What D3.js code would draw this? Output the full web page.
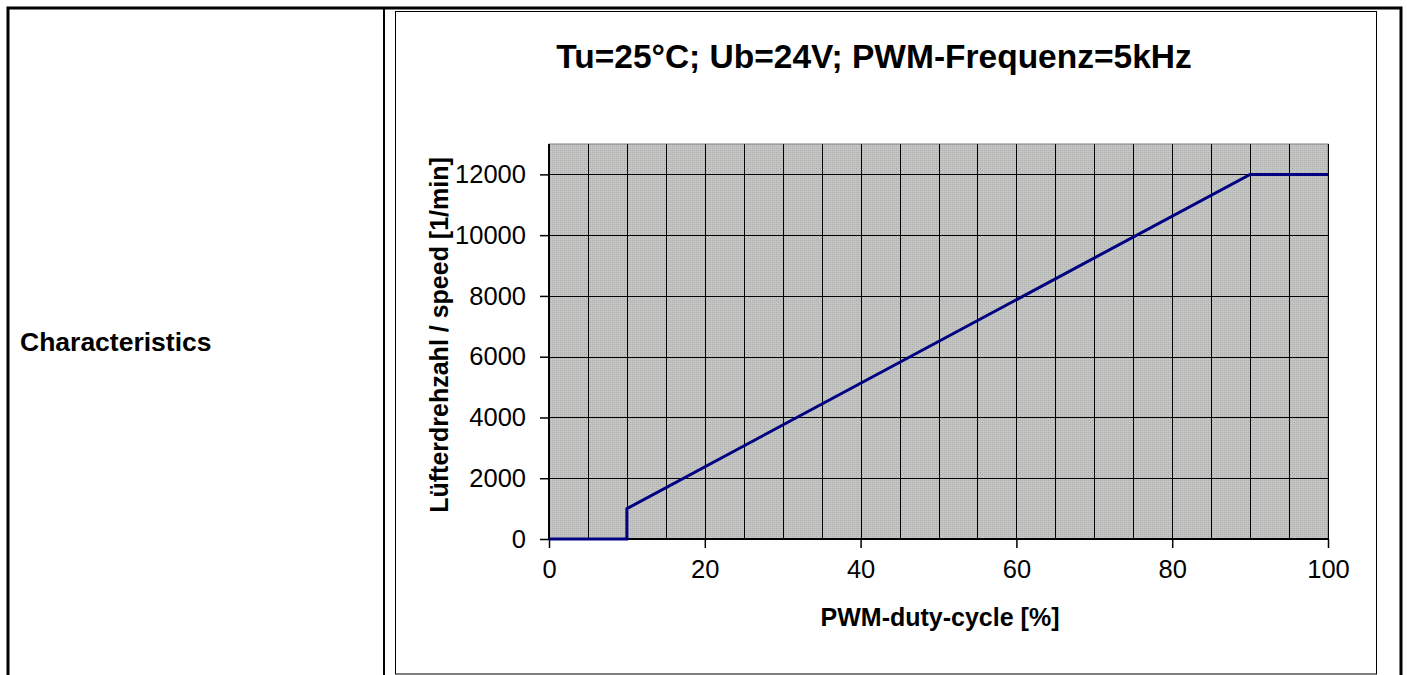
<!DOCTYPE html>
<html>
<head>
<meta charset="utf-8">
<script src="https://cdn.jsdelivr.net/npm/d3@7"></script>
<style>
  html, body { margin: 0; padding: 0; background: #fff; }
  svg { display: block; font-family: "Liberation Sans", Arial, sans-serif; }
</style>
</head>
<body>
<svg id="chart" width="1407" height="675"></svg>
<script>
// data
const dutyCycle = [0, 10, 10, 90, 100]
const speed = [0, 0, 1000, 12000, 12000]
const xTicks = [0, 20, 40, 60, 80, 100]
const xGrid = d3.range(0, 101, 5)
const yTicks = [0, 2000, 4000, 6000, 8000, 10000, 12000]
const title = "Tu=25°C; Ub=24V; PWM-Frequenz=5kHz"
const xTitle = "PWM-duty-cycle [%]"
const yTitle = "Lüfterdrehzahl / speed [1/min]"
const rowLabel = "Characteristics"

const svg = d3.select("#chart")

// table frame around the chart
svg.append("path")
  .attr("d", "M8,675 V8 H1401 V675")
  .attr("fill", "none").attr("stroke", "#000").attr("stroke-width", 3)
svg.append("line")
  .attr("x1", 384).attr("x2", 384).attr("y1", 8).attr("y2", 675)
  .attr("stroke", "#000").attr("stroke-width", 2)
svg.append("text")
  .attr("x", 20).attr("y", 351)
  .attr("font-size", 26.5).attr("font-weight", "bold")
  .text(rowLabel)

// chart box
svg.append("rect")
  .attr("x", 395.5).attr("y", 11.5).attr("width", 981).attr("height", 662.5)
  .attr("fill", "#fff").attr("stroke", "#000").attr("stroke-width", 1)

// dithered grey plot background
const defs = svg.append("defs")
const pat = defs.append("pattern")
  .attr("id", "dither").attr("width", 4).attr("height", 4)
  .attr("patternUnits", "userSpaceOnUse")
pat.append("rect").attr("width", 4).attr("height", 4).attr("fill", "#c0bec0")
pat.append("rect").attr("x", 0).attr("y", 0).attr("width", 1).attr("height", 1).attr("fill", "#a8b4a4")
pat.append("rect").attr("x", 2).attr("y", 2).attr("width", 1).attr("height", 1).attr("fill", "#a8b4a4")
pat.append("rect").attr("x", 1).attr("y", 1).attr("width", 1).attr("height", 1).attr("fill", "#dcbcdc")
pat.append("rect").attr("x", 3).attr("y", 3).attr("width", 1).attr("height", 1).attr("fill", "#dcbcdc")
pat.append("rect").attr("x", 3).attr("y", 1).attr("width", 1).attr("height", 1).attr("fill", "#d4c0d4")
pat.append("rect").attr("x", 1).attr("y", 3).attr("width", 1).attr("height", 1).attr("fill", "#d4c0d4")

const x = d3.scaleLinear().domain([0, 100]).range([549, 1328])
const y = d3.scaleLinear().domain([0, 13000]).range([539, 144])

svg.append("rect")
  .attr("x", x(0)).attr("y", y(13000))
  .attr("width", x(100) - x(0)).attr("height", y(0) - y(13000))
  .attr("fill", "url(#dither)")
  .attr("stroke", "#808080").attr("stroke-width", 1)

// grid
svg.append("g")
  .selectAll("line")
  .data(xGrid.slice(1))
  .enter().append("line")
  .attr("x1", d => Math.round(x(d)) + 0.5).attr("x2", d => Math.round(x(d)) + 0.5)
  .attr("y1", y(13000)).attr("y2", y(0))
  .attr("stroke", "#000").attr("stroke-width", 1)
svg.append("g")
  .selectAll("line")
  .data(yTicks.slice(1))
  .enter().append("line")
  .attr("x1", x(0)).attr("x2", x(100))
  .attr("y1", d => Math.round(y(d)) + 0.5).attr("y2", d => Math.round(y(d)) + 0.5)
  .attr("stroke", "#000").attr("stroke-width", 1)

// axes
const xAxis = d3.axisBottom(x).tickValues(xTicks).tickSize(9).tickPadding(12).tickFormat(d3.format("d"))
const yAxis = d3.axisLeft(y).tickValues(yTicks).tickSize(9).tickPadding(14).tickFormat(d3.format("d"))

const gx = svg.append("g").attr("transform", `translate(0,${y(0)})`).call(xAxis)
gx.select(".domain").attr("d", `M${x(0)},0H${x(100)}`).attr("stroke-width", 2)
gx.selectAll(".tick line").attr("stroke-width", 1.5)
gx.selectAll("text").attr("font-size", 25.5).attr("font-family", null).attr("fill", "#000")

const gy = svg.append("g").attr("transform", `translate(${x(0)},0)`).call(yAxis)
gy.select(".domain").attr("d", `M0,${y(0)}V${y(13000)}`).attr("stroke-width", 2)
gy.selectAll(".tick line").attr("stroke-width", 1.5)
gy.selectAll("text").attr("font-size", 25.5).attr("font-family", null).attr("fill", "#000")

// series
const points = dutyCycle.map((d, i) => [d, speed[i]])
svg.append("path")
  .datum(points)
  .attr("fill", "none")
  .attr("stroke", "#000080")
  .attr("stroke-width", 3)
  .attr("d", d3.line().x(d => x(d[0])).y(d => y(d[1])))

// titles
svg.append("text")
  .attr("x", 874).attr("y", 68)
  .attr("text-anchor", "middle")
  .attr("font-size", 33.5).attr("font-weight", "bold")
  .text(title)
svg.append("text")
  .attr("x", 940).attr("y", 626)
  .attr("text-anchor", "middle")
  .attr("font-size", 25).attr("font-weight", "bold")
  .text(xTitle)
svg.append("text")
  .attr("transform", "translate(448,335) rotate(-90)")
  .attr("text-anchor", "middle")
  .attr("font-size", 25).attr("font-weight", "bold")
  .text(yTitle)
</script>
</body>
</html>
